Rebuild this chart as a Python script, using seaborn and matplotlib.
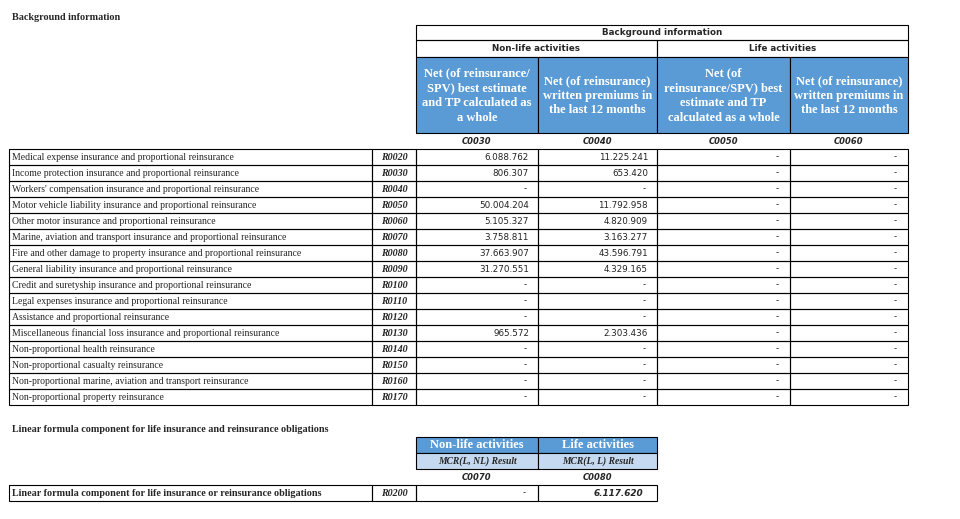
import matplotlib
matplotlib.use("Agg")
import matplotlib.pyplot as plt
from matplotlib.patches import Rectangle
import seaborn as sns

sns.set_theme(style="white")
plt.rcParams['font.family'] = ['DejaVu Sans']

# -------------------------------
# Data
# -------------------------------
row_labels = [
    "Medical expense insurance and proportional reinsurance",
    "Income protection insurance and proportional reinsurance",
    "Workers' compensation insurance and proportional reinsurance",
    "Motor vehicle liability insurance and proportional reinsurance",
    "Other motor insurance and proportional reinsurance",
    "Marine, aviation and transport insurance and proportional reinsurance",
    "Fire and other damage to property insurance and proportional reinsurance",
    "General liability insurance and proportional reinsurance",
    "Credit and suretyship insurance and proportional reinsurance",
    "Legal expenses insurance and proportional reinsurance",
    "Assistance and proportional reinsurance",
    "Miscellaneous financial loss insurance and proportional reinsurance",
    "Non-proportional health reinsurance",
    "Non-proportional casualty reinsurance",
    "Non-proportional marine, aviation and transport reinsurance",
    "Non-proportional property reinsurance",
]
row_codes = ["R0020", "R0030", "R0040", "R0050", "R0060", "R0070", "R0080", "R0090",
             "R0100", "R0110", "R0120", "R0130", "R0140", "R0150", "R0160", "R0170"]
col_codes = ["C0030", "C0040", "C0050", "C0060"]
col_headers = [
    "Net (of reinsurance/\nSPV) best estimate\nand TP calculated as\na whole",
    "Net (of reinsurance)\nwritten premiums in\nthe last 12 months",
    "Net (of\nreinsurance/SPV) best\nestimate and TP\ncalculated as a whole",
    "Net (of reinsurance)\nwritten premiums in\nthe last 12 months",
]
group_headers = ["Non-life activities", "Life activities"]

nonlife_best_estimate = [6088762, 806307, None, 50004204, 5105327, 3758811, 37663907, 31270551,
                         None, None, None, 965572, None, None, None, None]
nonlife_premiums = [11225241, 653420, None, 11792958, 4820909, 3163277, 43596791, 4329165,
                    None, None, None, 2303436, None, None, None, None]
life_best_estimate = [None, None, None, None, None, None, None, None,
                      None, None, None, None, None, None, None, None]
life_premiums = [None, None, None, None, None, None, None, None,
                 None, None, None, None, None, None, None, None]

mcr_label = "Linear formula component for life insurance or reinsurance obligations"
mcr_row_code = "R0200"
mcr_codes = ["C0070", "C0080"]
mcr_headers = ["Non-life activities", "Life activities"]
mcr_subheaders = ["MCR(L, NL) Result", "MCR(L, L) Result"]
mcr_values = [None, 6117620]

# -------------------------------
# Layout (pixel coordinates)
# -------------------------------
BLUE = "#5B9BD5"
LIGHT = "#C5DAF0"
SERIF = "Liberation Serif"
LW = 0.8

label_x0, label_x1, code_x1 = 9, 372, 416
col_x = [416, 538, 657, 790, 908]
row_top, row_h = 149, 16


def fmt(v):
    return "-" if v is None else f"{v:,}".replace(",", ".")


def box(ax, x0, y0, x1, y1, fc="none"):
    ax.add_patch(Rectangle((x0, y0), x1 - x0, y1 - y0, facecolor=fc,
                           edgecolor="black", linewidth=LW))


fig = plt.figure(figsize=(9.6, 5.19), dpi=100)
ax = fig.add_axes([0, 0, 1, 1])
ax.set_xlim(0, 960)
ax.set_ylim(519, 0)
ax.axis("off")

# Section 1 title
ax.text(12, 17, "Background information", family=SERIF, fontweight="bold",
        fontsize=7.3, va="center", ha="left")

# Header block
box(ax, col_x[0], 25, col_x[-1], 40)
ax.text((col_x[0] + col_x[-1]) / 2, 32.5, "Background information", fontsize=6.3,
        fontweight="bold", ha="center", va="center")
for g, name in enumerate(group_headers):
    x0, x1 = col_x[2 * g], col_x[2 * g + 2]
    box(ax, x0, 40, x1, 57)
    ax.text((x0 + x1) / 2, 48.5, name, fontsize=6.3, fontweight="bold",
            ha="center", va="center")
for j, hdr in enumerate(col_headers):
    x0, x1 = col_x[j], col_x[j + 1]
    box(ax, x0, 57, x1, 133, fc=BLUE)
    ax.text((x0 + x1) / 2, 95.5, hdr, family=SERIF, fontweight="bold", fontsize=9,
            color="white", ha="center", va="center", linespacing=1.3)
    ax.text((x0 + x1) / 2, 141, col_codes[j], fontsize=6, fontweight="bold",
            style="italic", ha="center", va="center")

# Data rows
columns = [nonlife_best_estimate, nonlife_premiums, life_best_estimate, life_premiums]
for i, (lab, code) in enumerate(zip(row_labels, row_codes)):
    y0 = row_top + i * row_h
    yc = y0 + row_h / 2
    box(ax, label_x0, y0, label_x1, y0 + row_h)
    box(ax, label_x1, y0, code_x1, y0 + row_h)
    ax.text(label_x0 + 3, yc, lab, family=SERIF, fontsize=7, ha="left", va="center")
    ax.text((label_x1 + code_x1) / 2, yc, code, family=SERIF, fontsize=7.2,
            fontweight="bold", style="italic", ha="center", va="center")
    for j, col in enumerate(columns):
        x0, x1 = col_x[j], col_x[j + 1]
        box(ax, x0, y0, x1, y0 + row_h)
        pad = 9 if col[i] is not None else 11
        ax.text(x1 - pad, yc, fmt(col[i]), fontsize=6.3, color="#222222",
                ha="right", va="center")

# Section 2 title
ax.text(12, 430, "Linear formula component for life insurance and reinsurance obligations",
        family=SERIF, fontweight="bold", fontsize=7.3, va="center", ha="left")

# Section 2 header + row
y2 = 485
box(ax, label_x0, y2, label_x1, y2 + row_h)
box(ax, label_x1, y2, code_x1, y2 + row_h)
ax.text(label_x0 + 3, y2 + row_h / 2, mcr_label, family=SERIF, fontweight="bold",
        fontsize=7.25, ha="left", va="center")
ax.text((label_x1 + code_x1) / 2, y2 + row_h / 2, mcr_row_code, family=SERIF,
        fontsize=7.2, fontweight="bold", style="italic", ha="center", va="center")
for j in range(2):
    x0, x1 = col_x[j], col_x[j + 1]
    box(ax, x0, 437, x1, 453, fc=BLUE)
    box(ax, x0, 453, x1, 469, fc=LIGHT)
    ax.text((x0 + x1) / 2, 445, mcr_headers[j], family=SERIF, fontweight="bold",
            fontsize=9, color="white", ha="center", va="center")
    ax.text((x0 + x1) / 2, 461.5, mcr_subheaders[j], family=SERIF, style="italic",
            fontweight="bold", fontsize=6.9, ha="center", va="center")
    ax.text((x0 + x1) / 2, 477, mcr_codes[j], fontsize=6, fontweight="bold",
            style="italic", ha="center", va="center")
    box(ax, x0, y2, x1, y2 + row_h)
    v = mcr_values[j]
    if v is None:
        ax.text(x1 - 12, y2 + row_h / 2, fmt(v), fontsize=6.3, ha="right", va="center")
    else:
        ax.text(x1 - 14, y2 + row_h / 2, fmt(v), fontsize=6.4, style="italic",
                fontweight="bold", ha="right", va="center")

fig.savefig("out.png", dpi=100)
